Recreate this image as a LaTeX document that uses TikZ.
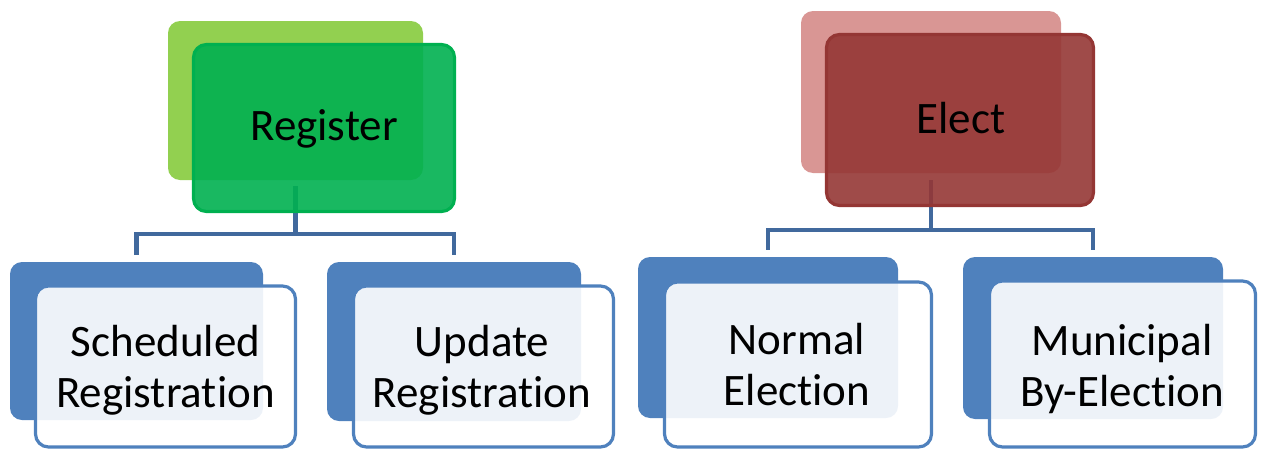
\documentclass[tikz,border=0pt]{standalone}
\usepackage{fontspec}
\setmainfont{Carlito}[Ligatures={NoCommon}]
\definecolor{gBack}{HTML}{92D050}
\definecolor{gFront}{HTML}{00B050}
\definecolor{rBack}{HTML}{D99694}
\definecolor{rFront}{HTML}{953735}
\definecolor{rEdge}{HTML}{943634}
\definecolor{bBack}{HTML}{4F81BD}
\definecolor{linkblue}{HTML}{41699D}
\tikzset{
  backbox/.style={rectangle, rounded corners=12pt, inner sep=0pt, draw=none},
  frontbox/.style={rectangle, rounded corners=13pt, inner sep=0pt, line width=3.2pt, fill opacity=0.9, draw opacity=1},
  lbl/.style={font=\fontsize{45}{51}\selectfont, align=center, inner sep=0pt, text=black},
  link/.style={draw=linkblue, line width=4.5pt, line join=miter}
}
\begin{document}
\begin{tikzpicture}[x=1pt,y=-1pt]
\useasboundingbox (0,0) rectangle (1264,450);
% back boxes
\node[backbox, fill=gBack, minimum width=255pt, minimum height=159pt] (regB) at (295.5,100.5) {};
\node[backbox, fill=rBack, minimum width=260pt, minimum height=162pt] (eleB) at (931,92) {};
\node[backbox, fill=bBack, minimum width=253pt, minimum height=158pt] (schB) at (136.5,341) {};
\node[backbox, fill=bBack, minimum width=254pt, minimum height=159pt] (updB) at (454,341.5) {};
\node[backbox, fill=bBack, minimum width=260pt, minimum height=161pt] (norB) at (768,337.5) {};
\node[backbox, fill=bBack, minimum width=260pt, minimum height=162pt] (munB) at (1093,338) {};
% connectors
\coordinate (regJ) at (295.5,234);
\coordinate (eleJ) at (931,230);
\draw[link] ([yshift=-6pt]regB.south) -- (regJ);
\draw[link] ([yshift=7pt]schB.north) |- (regJ) -| ([yshift=7pt]updB.north);
\draw[link] ([yshift=-7pt]eleB.south) -- (eleJ);
\draw[link] ([yshift=7pt]norB.north) |- (eleJ) -| ([yshift=7pt]munB.north);
% front boxes
\node[frontbox, fill=gFront, draw=gFront, minimum width=261pt, minimum height=167pt] (regF) at (324,128) {};
\node[frontbox, fill=rFront, draw=rEdge, minimum width=267pt, minimum height=171pt] (eleF) at (960,120) {};
\node[frontbox, fill=white, draw=bBack, minimum width=260pt, minimum height=161pt] (schF) at (165.5,366.5) {};
\node[frontbox, fill=white, draw=bBack, minimum width=260pt, minimum height=161pt] (updF) at (483.5,366.5) {};
\node[frontbox, fill=white, draw=bBack, minimum width=267pt, minimum height=165pt] (norF) at (798,364.5) {};
\node[frontbox, fill=white, draw=bBack, minimum width=266pt, minimum height=166pt] (munF) at (1122.5,364) {};
% texts
\node[lbl, anchor=base] (regT) at (324,140) {Register};
\node[lbl, anchor=base] (eleT) at (961,133) {Elect};
\node[lbl] (schT) at (165.5,370) {Scheduled\\Registration};
\node[lbl] (updT) at (482,370) {Update\\Registration};
\node[lbl] (norT) at (797,365) {Normal\\Election};
\node[lbl] (munT) at (1122,369) {Municipal\\By-Election};
\end{tikzpicture}
\end{document}
